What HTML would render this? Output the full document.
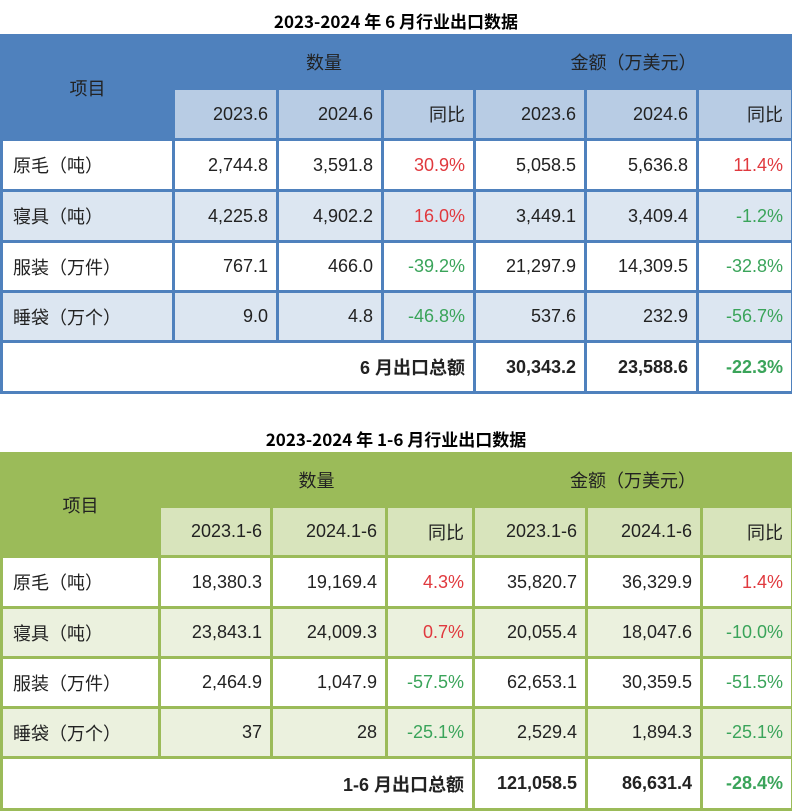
<!DOCTYPE html><html><head><meta charset="utf-8"><style>
body{margin:0;width:792px;height:809px;background:#fff;font-family:"Liberation Sans","Noto Sans CJK SC",sans-serif;position:relative;overflow:hidden}
.t{position:absolute;left:0;width:792px;text-align:center;font-weight:bold;font-size:17px;color:#000;font-family:"Noto Sans CJK SC","Liberation Sans",sans-serif}
table{position:absolute;left:0;border-collapse:collapse;table-layout:fixed;font-size:18px;color:#222}
td{padding:0 8px;text-align:right;white-space:nowrap;overflow:hidden}
td.l{text-align:left;padding-left:10px}
td.c{text-align:center}
.r{color:#e0393e}.g{color:#3aa45a}
.b td{border:3px solid #4f81bd}
.b .h1 td{background:#4f81bd;border-color:#4f81bd;color:#222}
.b .h2 td{background:#b8cce4;border-top-color:#fff}
.b .a td{background:#dce6f1}
.G td{border:3px solid #9bbb59}
.G .h1 td{background:#9bbb59;border-color:#9bbb59;color:#222}
.G .h2 td{background:#d8e4bc;border-top-color:#fff}
.G .a td{background:#ebf1de}
.tot td{font-weight:bold}
</style></head><body>
<div class="t" style="top:8px">2023-2024 年 6 月行业出口数据</div>
<table class="b" style="top:34px;width:791px">
<colgroup><col style="width:172px"><col style="width:104px"><col style="width:105px"><col style="width:92px"><col style="width:111px"><col style="width:112px"><col style="width:95px"></colgroup>
<tr class="h1" style="height:53px"><td class="c" rowspan="2" style="vertical-align:middle">项目</td><td class="c" colspan="3">数量</td><td class="c" colspan="3">金额（万美元）</td></tr>
<tr class="h2" style="height:51px"><td>2023.6</td><td>2024.6</td><td>同比</td><td>2023.6</td><td>2024.6</td><td>同比</td></tr>
<tr style="height:51px"><td class="l">原毛（吨）</td><td>2,744.8</td><td>3,591.8</td><td class="r">30.9%</td><td>5,058.5</td><td>5,636.8</td><td class="r">11.4%</td></tr>
<tr class="a" style="height:51px"><td class="l">寝具（吨）</td><td>4,225.8</td><td>4,902.2</td><td class="r">16.0%</td><td>3,449.1</td><td>3,409.4</td><td class="g">-1.2%</td></tr>
<tr style="height:50px"><td class="l">服装（万件）</td><td>767.1</td><td>466.0</td><td class="g">-39.2%</td><td>21,297.9</td><td>14,309.5</td><td class="g">-32.8%</td></tr>
<tr class="a" style="height:50px"><td class="l">睡袋（万个）</td><td>9.0</td><td>4.8</td><td class="g">-46.8%</td><td>537.6</td><td>232.9</td><td class="g">-56.7%</td></tr>
<tr class="tot" style="height:51px"><td colspan="4" style="border-right:3px solid #4f81bd">6 月出口总额</td><td>30,343.2</td><td>23,588.6</td><td class="g">-22.3%</td></tr>
</table>
<div class="t" style="top:426px">2023-2024 年 1-6 月行业出口数据</div>
<table class="G" style="top:452px;width:791px">
<colgroup><col style="width:158px"><col style="width:112px"><col style="width:115px"><col style="width:87px"><col style="width:113px"><col style="width:115px"><col style="width:91px"></colgroup>
<tr class="h1" style="height:53px"><td class="c" rowspan="2" style="vertical-align:middle">项目</td><td class="c" colspan="3">数量</td><td class="c" colspan="3">金额（万美元）</td></tr>
<tr class="h2" style="height:50px"><td>2023.1-6</td><td>2024.1-6</td><td>同比</td><td>2023.1-6</td><td>2024.1-6</td><td>同比</td></tr>
<tr style="height:51px"><td class="l">原毛（吨）</td><td>18,380.3</td><td>19,169.4</td><td class="r">4.3%</td><td>35,820.7</td><td>36,329.9</td><td class="r">1.4%</td></tr>
<tr class="a" style="height:50px"><td class="l">寝具（吨）</td><td>23,843.1</td><td>24,009.3</td><td class="r">0.7%</td><td>20,055.4</td><td>18,047.6</td><td class="g">-10.0%</td></tr>
<tr style="height:50px"><td class="l">服装（万件）</td><td>2,464.9</td><td>1,047.9</td><td class="g">-57.5%</td><td>62,653.1</td><td>30,359.5</td><td class="g">-51.5%</td></tr>
<tr class="a" style="height:50px"><td class="l">睡袋（万个）</td><td>37</td><td>28</td><td class="g">-25.1%</td><td>2,529.4</td><td>1,894.3</td><td class="g">-25.1%</td></tr>
<tr class="tot" style="height:52px"><td colspan="4">1-6 月出口总额</td><td>121,058.5</td><td>86,631.4</td><td class="g">-28.4%</td></tr>
</table>
</body></html>
